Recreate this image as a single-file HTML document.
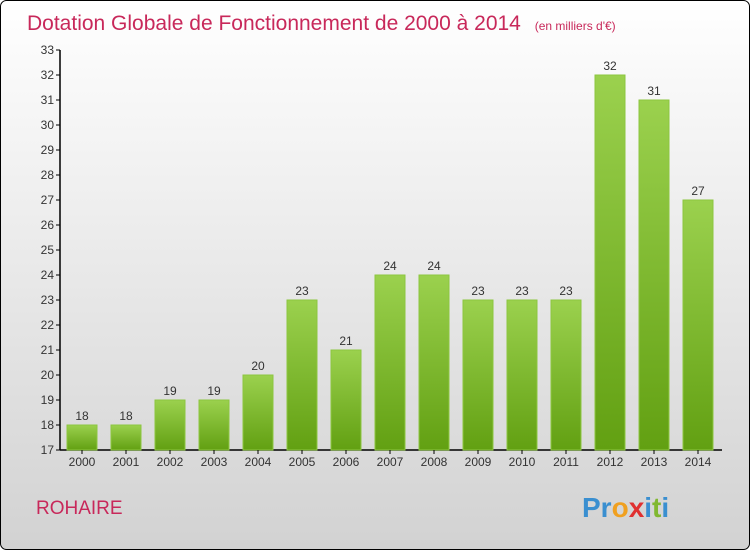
<!DOCTYPE html>
<html><head><meta charset="utf-8"><style>
html,body{margin:0;padding:0}
body{width:750px;height:550px;overflow:hidden;font-family:"Liberation Sans",sans-serif}
</style></head><body>
<svg width="750" height="550" xmlns="http://www.w3.org/2000/svg">
<defs>
<linearGradient id="bg" x1="0" y1="0" x2="0" y2="1"><stop offset="0" stop-color="#ffffff"/><stop offset="1" stop-color="#d2d2d2"/></linearGradient>
<linearGradient id="bar" x1="0" y1="0" x2="0" y2="1"><stop offset="0" stop-color="#9bd14e"/><stop offset="1" stop-color="#62a012"/></linearGradient>
</defs>
<rect x="0.5" y="0.5" width="749" height="549" rx="6" fill="url(#bg)" stroke="#000"/>
<text x="27" y="30" font-size="21" fill="#c8285a">Dotation Globale de Fonctionnement de 2000 à 2014 <tspan font-size="12" dx="8">(en milliers d'€)</tspan></text>
<g id="plot"></g>
<text x="36" y="514" font-size="19" fill="#c8285a">ROHAIRE</text>
<g font-size="28" font-weight="bold">
<text x="582" y="517"><tspan fill="#3a8fd0">Pr</tspan><tspan fill="#f0a020">o</tspan><tspan fill="#e03030">x</tspan><tspan fill="#3a8fd0">i</tspan><tspan fill="#80b830">t</tspan><tspan fill="#3a8fd0">i</tspan></text>
</g>
</svg>
<script>
const categories=["2000","2001","2002","2003","2004","2005","2006","2007","2008","2009","2010","2011","2012","2013","2014"];
const values=[18,18,19,19,20,23,21,24,24,23,23,23,32,31,27];
const yTicks=[17,18,19,20,21,22,23,24,25,26,27,28,29,30,31,32,33];
const NS="http://www.w3.org/2000/svg";
const g=document.getElementById('plot');
const y=v=>450-(v-17)*25;
const x=i=>82+i*44;
function mk(t,a,txt){const e=document.createElementNS(NS,t);for(const k in a)e.setAttribute(k,a[k]);if(txt!=null)e.textContent=txt;g.appendChild(e);return e;}
let ax=mk('line',{x1:60,y1:50,x2:60,y2:450,stroke:'#000','stroke-width':1.5});


let bx=mk('line',{x1:60,y1:450,x2:722,y2:450,stroke:'#000','stroke-width':1.5});


yTicks.forEach(v=>{
 let t=mk('line',{x1:56,y1:y(v),x2:60,y2:y(v),stroke:'#000'});
 
 
 let l=mk('text',{x:54,y:y(v)+4,'text-anchor':'end','font-size':12,fill:'#333'},v);
 
 
});
categories.forEach((c,i)=>{
 const v=values[i];
 let b=mk('rect',{x:x(i)-15,y:y(v),width:30,height:450-y(v),fill:'url(#bar)',stroke:'#8cc63f','stroke-width':1});
 
 
 let vl=mk('text',{x:x(i),y:y(v)-5,'text-anchor':'middle','font-size':12,fill:'#333'},v);
 
 
 let t=mk('line',{x1:x(i),y1:450,x2:x(i),y2:454,stroke:'#000'});
 
 
 let xl=mk('text',{x:x(i),y:466,'text-anchor':'middle','font-size':12,fill:'#333'},c);
 
 
});
</script>
</body></html>
